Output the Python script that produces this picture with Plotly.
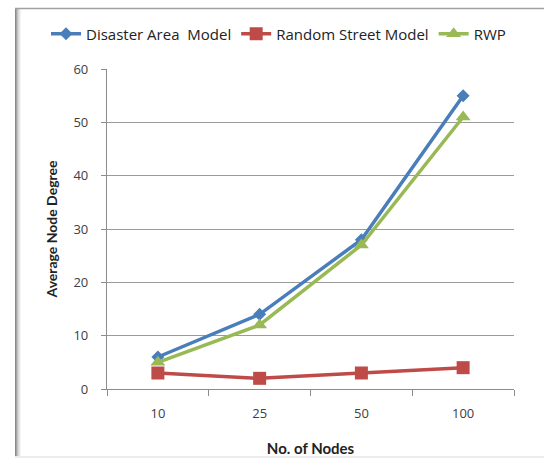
import plotly.graph_objects as go

# Number of nodes in each scenario (categorical x axis)
nodes = ["10", "25", "50", "100"]

# Average node degree per mobility model
disaster_area = [6, 14, 28, 55]
random_street = [3, 2, 3, 4]
rwp = [5, 12, 27, 51]

y_ticks = [0, 10, 20, 30, 40, 50, 60]

W, H = 544, 463
L, R, T, B = 107, 30, 69, 74
PW, PH = W - L - R, H - T - B


def px_x(x):
    return (x - L) / PW


def px_y(y):
    return (H - B - y) / PH


fig = go.Figure()

fig.add_trace(go.Scatter(
    x=nodes, y=disaster_area, name="Disaster Area  Model",
    mode="lines+markers",
    line=dict(color="#4a7ebb", width=3.5),
    marker=dict(symbol="diamond", size=10, color="#4a7ebb"),
))
fig.add_trace(go.Scatter(
    x=nodes, y=random_street, name="Random Street Model",
    mode="lines+markers",
    line=dict(color="#be4b48", width=3.5),
    marker=dict(symbol="square", size=13, color="#be4b48"),
))
fig.add_trace(go.Scatter(
    x=nodes, y=rwp, name="RWP",
    mode="lines+markers",
    line=dict(color="#98b954", width=3.5),
    marker=dict(symbol="triangle-up", size=13, color="#98b954"),
))

# Outer chart frame with a soft shadow along the left edge
shapes = []
shadow = ["#8a8a8a", "#a6a6a6", "#c2c2c2", "#d8d8d8", "#e8e8e8", "#f3f3f3"]
for i, c in enumerate(shadow):
    x = 15.5 + i
    shapes.append(dict(type="line", xref="paper", yref="paper", layer="above",
                       x0=px_x(x), x1=px_x(x), y0=px_y(8), y1=px_y(458),
                       line=dict(color=c, width=1)))
shapes.append(dict(type="line", xref="paper", yref="paper", layer="above",
                   x0=px_x(15), x1=px_x(546), y0=px_y(8.5), y1=px_y(8.5),
                   line=dict(color="#a0a0a0", width=1.5)))
shapes.append(dict(type="line", xref="paper", yref="paper", layer="above",
                   x0=px_x(15), x1=px_x(546), y0=px_y(457), y1=px_y(457),
                   line=dict(color="#ececec", width=2)))

fig.update_layout(
    width=W, height=H,
    margin=dict(l=L, r=R, t=T, b=B, autoexpand=False),
    paper_bgcolor="white", plot_bgcolor="white",
    font=dict(family="Open Sans, Lato, sans-serif", size=13, color="#404040"),
    shapes=shapes,
    showlegend=True,
    legend=dict(
        orientation="h",
        x=px_x(46), xanchor="left",
        y=px_y(34), yanchor="middle",
        font=dict(family="Open Sans, sans-serif", size=15, color="#222222"),
        tracegroupgap=0, bgcolor="rgba(0,0,0,0)",
    ),
    xaxis=dict(
        type="category", range=[-0.5, 3.5],
        showline=True, linecolor="#8c8c8c", linewidth=1.2,
        ticks="outside", tickson="boundaries", ticklen=6,
        tickcolor="#8c8c8c", showgrid=False,
        ticklabelstandoff=12,
        tickfont=dict(size=13, color="#404040"),
        title=dict(text="<b>No. of Nodes</b>",
                   font=dict(family="Lato, sans-serif", size=15, color="#222222"),
                   standoff=22),
    ),
    yaxis=dict(
        range=[0, 60], tickvals=y_ticks,
        showline=True, linecolor="#8c8c8c", linewidth=1.2,
        ticks="outside", ticklen=5, tickcolor="#8c8c8c",
        showgrid=True, gridcolor="#9a9a9a", gridwidth=1,
        zeroline=False,
        ticklabelstandoff=10,
        tickfont=dict(size=13, color="#404040"),
        title=dict(text="<b>Average Node Degree</b>",
                   font=dict(family="Lato, sans-serif", size=14, color="#222222"),
                   standoff=12),
    ),
)

fig.write_html("out.html")
